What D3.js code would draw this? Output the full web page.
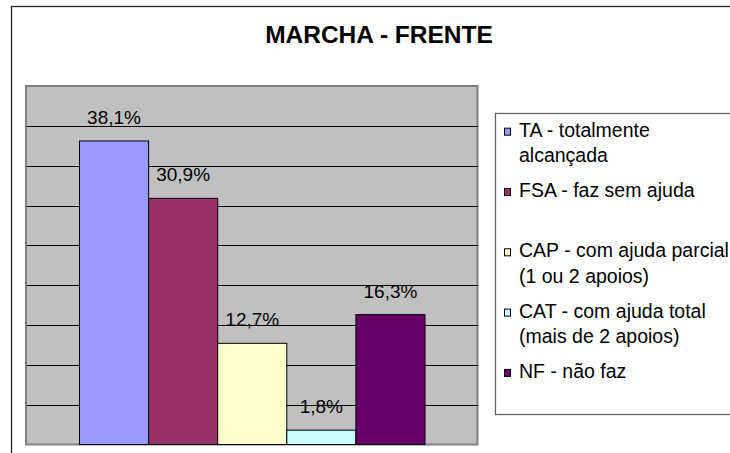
<!DOCTYPE html>
<html>
<head>
<meta charset="utf-8">
<script src="https://cdn.jsdelivr.net/npm/d3@7"></script>
<style>
  body { margin: 0; background: #fff; }
  text { font-family: "Liberation Sans", Arial, sans-serif; }
</style>
</head>
<body>
<svg id="chart" width="730" height="453"></svg>
<script>
// data
var title = "MARCHA - FRENTE";
var series = ["TA", "FSA", "CAP", "CAT", "NF"];
var values = [38.1, 30.9, 12.7, 1.8, 16.3];
var colors = ["#9999FF", "#993366", "#FFFFCC", "#CCFFFF", "#660066"];
var legendLines = [
    ["TA - totalmente", "alcançada"],
    ["FSA - faz sem ajuda"],
    ["CAP - com ajuda parcial", "(1 ou 2 apoios)"],
    ["CAT - com ajuda total", "(mais de 2 apoios)"],
    ["NF - não faz"]
];
var yMax = 45, yStep = 5;

var svg = d3.select("#chart");

var ptBR = d3.formatLocale({decimal: ",", thousands: ".", grouping: [3], currency: ["R$", ""]});
var fmt = ptBR.format(".1f");

// outer chart border (runs off the page right and bottom)
svg.append("rect")
    .attr("x", 11.5).attr("y", 6.5)
    .attr("width", 800).attr("height", 500)
    .attr("fill", "#fff")
    .attr("stroke", "#222")
    .attr("stroke-width", 1.3);

svg.append("text")
    .attr("x", 379).attr("y", 43)
    .attr("text-anchor", "middle")
    .attr("font-size", "24.5px")
    .attr("font-weight", "bold")
    .text(title);

// plot area
var plot = {left: 26, top: 86, right: 477.5, bottom: 444.5};

var y = d3.scaleLinear().domain([0, yMax]).range([plot.bottom, plot.top]);
var x = d3.scaleBand().domain(series).range([79.5, 425]).padding(0);

svg.append("rect")
    .attr("x", plot.left).attr("y", plot.top)
    .attr("width", plot.right - plot.left)
    .attr("height", plot.bottom - plot.top)
    .attr("fill", "#C0C0C0")
    .attr("stroke", "#808080")
    .attr("stroke-width", 2);

var ticks = d3.range(yStep, yMax, yStep);
var yAxis = d3.axisRight(y).tickValues(ticks).tickSize(plot.right - plot.left - 1).tickFormat("");
var grid = svg.append("g")
    .attr("transform", "translate(" + (plot.left + 1) + ",0)")
    .call(yAxis);
grid.select(".domain").remove();
grid.selectAll(".tick line")
    .attr("stroke", "#000")
    .attr("shape-rendering", "crispEdges");

svg.selectAll("rect.bar")
    .data(values)
    .enter().append("rect")
    .attr("class", "bar")
    .attr("x", function(d, i) { return x(series[i]); })
    .attr("y", function(d) { return y(d); })
    .attr("width", x.bandwidth())
    .attr("height", function(d) { return y(0) - y(d); })
    .attr("fill", function(d, i) { return colors[i]; })
    .attr("stroke", "#000")
    .attr("stroke-width", 1);

svg.selectAll("text.lbl")
    .data(values)
    .enter().append("text")
    .attr("class", "lbl")
    .attr("x", function(d, i) { return x(series[i]) + x.bandwidth() / 2; })
    .attr("y", function(d) { return y(d) - 17; })
    .attr("text-anchor", "middle")
    .attr("font-size", "19px")
    .text(function(d) { return fmt(d) + "%"; });

// legend
svg.append("rect")
    .attr("x", 495.5).attr("y", 113.5)
    .attr("width", 300).attr("height", 301)
    .attr("fill", "#fff")
    .attr("stroke", "#666")
    .attr("stroke-width", 1.3);

var leg = svg.selectAll("g.leg")
    .data(legendLines)
    .enter().append("g")
    .attr("class", "leg")
    .attr("transform", function(d, i) { return "translate(0," + (136.7 + i * 60.3) + ")"; });

leg.append("rect")
    .attr("x", 504.5).attr("y", -8.5)
    .attr("width", 6).attr("height", 7)
    .attr("fill", function(d, i) { return colors[i]; })
    .attr("stroke", "#000")
    .attr("stroke-width", 1);

leg.each(function(lines) {
    var g = d3.select(this);
    lines.forEach(function(s, k) {
        g.append("text")
            .attr("x", 519)
            .attr("y", k * 25.5)
            .attr("font-size", "19.5px")
            .text(s);
    });
});
</script>
</body>
</html>
